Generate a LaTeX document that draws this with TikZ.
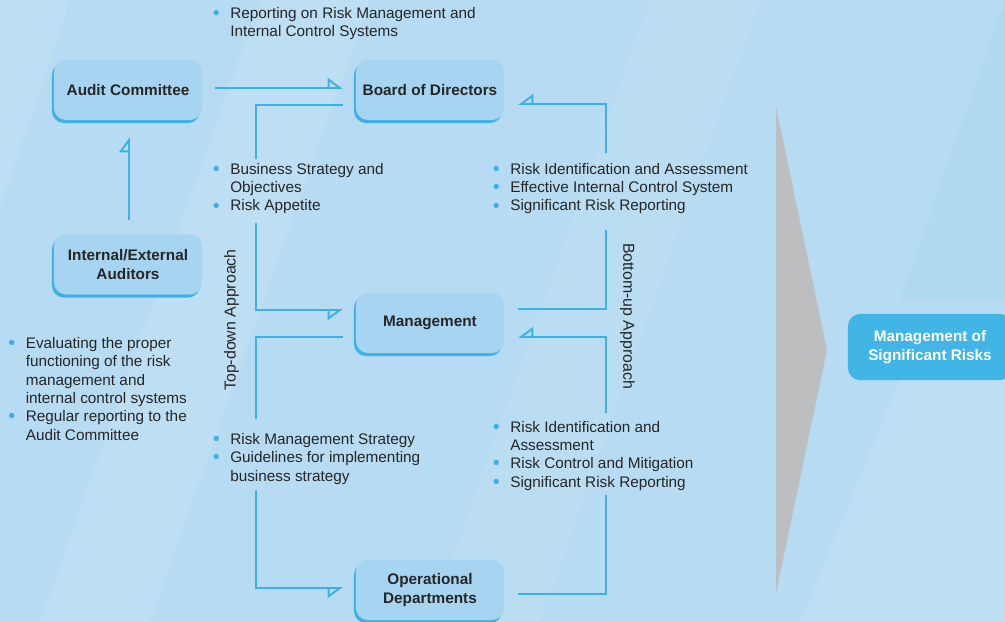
\documentclass[tikz,border=0pt]{standalone}
\usepackage{fontspec}
\setmainfont{Liberation Sans}
\usetikzlibrary{arrows.meta,shadows}
\definecolor{bgblue}{HTML}{B6DBF2}
\definecolor{boxblue}{HTML}{A6D4F1}
\definecolor{lineblue}{HTML}{3DB1E6}
\definecolor{goalblue}{HTML}{41B5E6}
\definecolor{txtgray}{HTML}{262626}
\definecolor{arrowgray}{HTML}{BDBEC0}
\newcommand{\bpt}{\llap{\textcolor{lineblue}{\raisebox{-0.9pt}{\fontsize{14}{13}\selectfont\textbullet}}\hspace{7.5pt}}}
\tikzset{
  unit/.style={fill=boxblue,rounded corners=0.3cm,minimum width=3.7cm,minimum height=1.5cm,
    align=center,text=txtgray,font=\fontsize{10.9}{13}\selectfont\bfseries,
    drop shadow={shadow xshift=-0.05cm,shadow yshift=-0.075cm,fill=lineblue,opacity=1}},
  goal/.style={fill=goalblue,rounded corners=0.3cm,minimum width=4.1cm,minimum height=1.65cm,
    align=center,text=white,font=\fontsize{10.9}{13}\selectfont\bfseries},
  note/.style={anchor=base west,align=left,inner sep=0pt,text=txtgray,font=\fontsize{10.9}{13}\selectfont},
  side/.style={text=txtgray,inner sep=0pt,font=\fontsize{11.3}{13}\selectfont},
  conn/.style={draw=lineblue,line width=1.4pt},
  tipL/.style={-{Triangle[open,left,length=0.35cm,width=0.5cm]}},
  tipR/.style={-{Triangle[open,right,length=0.35cm,width=0.5cm]}},
}
\begin{document}
\begin{tikzpicture}[x=0.025cm,y=-0.025cm]
\clip (0,0) rectangle (1005,622);
% background
\fill[bgblue] (0,0) rectangle (1005,622);
\fill[white,opacity=0.12] (-250,622) -- (-140,622) -- (70,0) -- (-30,0) -- cycle;
\fill[white,opacity=0.1] (40,622) -- (150,622) -- (370,0) -- (260,0) -- cycle;
\fill[white,opacity=0.07] (430,622) -- (540,622) -- (760,0) -- (650,0) -- cycle;
\fill[white,opacity=0.12] (800,622) -- (1100,622) -- (1100,380) -- (900,380) -- cycle;
\fill[lineblue,opacity=0.05] (900,300) -- (1005,0) -- (1005,300) -- cycle;
% big arrow
\fill[arrowgray] (776,107) -- (827,350) -- (776,593) -- cycle;

% boxes
\node[unit] (audit) at (128,90) {Audit Committee};
\node[unit] (board) at (430,90) {Board of Directors};
\node[unit] (auditors) at (128,264.5) {Internal/External\\Auditors};
\node[unit] (mgmt) at (430,323) {Management};
\node[unit] (ops) at (430,590) {Operational\\Departments};
\node[goal] (risks) at (930,347) {Management of\\Significant Risks};

% texts (anchored on the last line)
\node[note] (report) at (230,36.3) {\bpt Reporting on Risk Management and\\Internal Control Systems};
\node[note] (strategy) at (230,211) {\bpt Business Strategy and\\Objectives\\\bpt Risk Appetite};
\node[note] (upper) at (510,211) {\bpt Risk Identification and Assessment\\\bpt Effective Internal Control System\\\bpt Significant Risk Reporting};
\node[note] (evaluate) at (25.5,440) {\bpt Evaluating the proper\\functioning of the risk\\management and\\internal control systems\\\bpt Regular reporting to the\\Audit Committee};
\node[note] (guide) at (230,481) {\bpt Risk Management Strategy\\\bpt Guidelines for implementing\\business strategy};
\node[note] (lower) at (510,487) {\bpt Risk Identification and\\Assessment\\\bpt Risk Control and Mitigation\\\bpt Significant Risk Reporting};
\node[side,rotate=90] (topdown) at (231.5,320) {Top-down Approach};
\node[side,rotate=-90] (bottomup) at (627.5,316) {Bottom-up Approach};

% connector ends
\coordinate (acOut) at (215,88);
\coordinate (bdIn) at (343,88);
\coordinate (auOut) at (129,220);
\coordinate (acIn) at (129,137);
\coordinate (bdOut) at (343,105);
\coordinate (tdA) at (256,159);
\coordinate (tdB) at (256,223);
\coordinate (mgIn) at (343,310);
\coordinate (mgOut) at (343,337);
\coordinate (tdC) at (256,419);
\coordinate (tdD) at (256,490);
\coordinate (opIn) at (343,588);
\coordinate (opOut) at (518,594);
\coordinate (buA) at (606,495);
\coordinate (buB) at (606,413);
\coordinate (mgIn2) at (518,337);
\coordinate (mgOut2) at (518,309);
\coordinate (buC) at (606,230);
\coordinate (buD) at (606,153);
\coordinate (bdIn2) at (518,104);

% connectors
\path[conn,tipL] (acOut) -- (bdIn);
\path[conn,tipL] (auOut) -- (acIn);
\path[conn] (bdOut) -| (tdA);
\path[conn,tipR] (tdB) |- (mgIn);
\path[conn] (mgOut) -| (tdC);
\path[conn,tipR] (tdD) |- (opIn);
\path[conn] (opOut) -| (buA);
\path[conn,tipR] (buB) |- (mgIn2);
\path[conn] (mgOut2) -| (buC);
\path[conn,tipR] (buD) |- (bdIn2);
\end{tikzpicture}
\end{document}
